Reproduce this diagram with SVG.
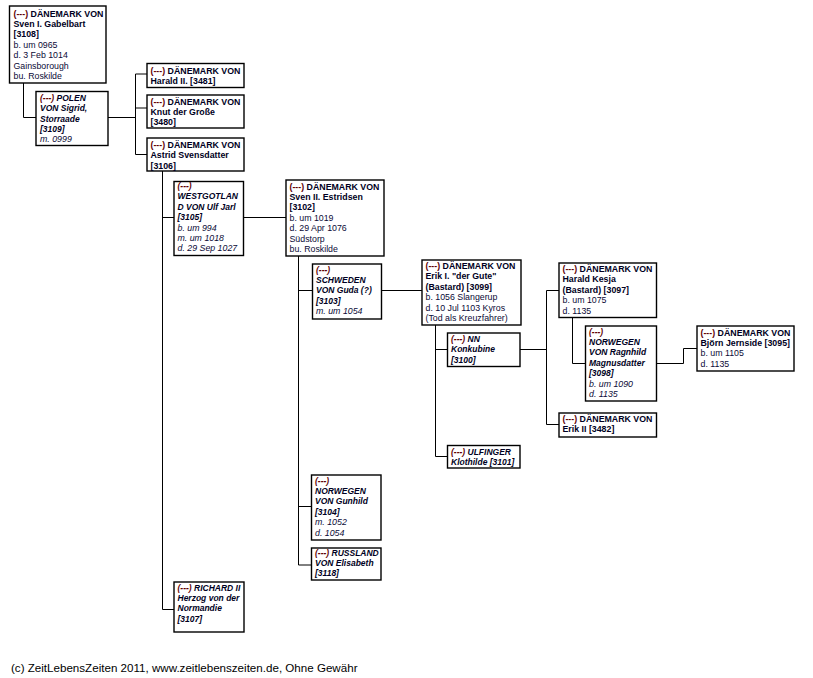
<svg xmlns="http://www.w3.org/2000/svg" width="813" height="678" viewBox="0 0 813 678">
<style>
rect.b{fill:#fff;stroke:#000;stroke-width:1.4}
text{font-family:"Liberation Sans",Arial,sans-serif;font-size:8.8px;fill:#0a0a36}
.n{font-weight:bold;fill:#000022}
.s{font-weight:bold;font-style:italic;fill:#000022;font-size:8.5px}
.di{font-style:italic}
.u{fill:#600000}
#connectors path{fill:none;stroke:#000;stroke-width:1}
.foot{font-size:11.6px;fill:#000}
</style>
<rect width="813" height="678" fill="#fff"/>
<g id="connectors">
<path d="M23.5,83 V117.5 H36"/>
<path d="M108,117.5 H135.5 M135.5,74 V154.5 M135.5,74 H147 M135.5,108 H147 M135.5,154.5 H147"/>
<path d="M162.5,171 V609.5 M162.5,217.5 H174 M162.5,609.5 H174"/>
<path d="M243.5,217.5 H286"/>
<path d="M298.5,256 V565 M298.5,290.5 H312.5 M298.5,506.5 H311.5 M298.5,565 H311.5"/>
<path d="M381.5,290.5 H422"/>
<path d="M435.5,325 V456.5 M435.5,349.5 H447.5 M435.5,456.5 H447.5"/>
<path d="M520,349.5 H546.5 M546.5,290.5 V424.5 M546.5,290.5 H559 M546.5,424.5 H559"/>
<path d="M572.5,317.5 V363.5 H585.5"/>
<path d="M656.5,363.5 H683.5 V348.5 H697"/>
</g>
<g id="n3108">
<rect class="b" x="9.5" y="6" width="96.5" height="77"/>
<text class="n" x="13.5" y="16.5"><tspan class="u">(---)</tspan> DÄNEMARK VON</text>
<text class="n" x="13.5" y="27">Sven I. Gabelbart</text>
<text class="n" x="13.5" y="37.4">[3108]</text>
<text x="13.5" y="47.8">b. um 0965</text>
<text x="13.5" y="58.2">d. 3 Feb 1014</text>
<text x="13.5" y="68.6">Gainsborough</text>
<text x="13.5" y="79">bu.  Roskilde</text>
</g>
<g id="n3109">
<rect class="b" x="36" y="91.5" width="72" height="54"/>
<text class="s" x="40" y="101"><tspan class="u">(---)</tspan> POLEN</text>
<text class="s" x="40" y="111.3">VON Sigrid,</text>
<text class="s" x="40" y="121.6">Storraade</text>
<text class="s" x="40" y="131.9">[3109]</text>
<text class="di" x="40" y="142.2">m. 0999</text>
</g>
<g id="n3481">
<rect class="b" x="147" y="63.5" width="97" height="24"/>
<text class="n" x="150.5" y="73.5"><tspan class="u">(---)</tspan> DÄNEMARK VON</text>
<text class="n" x="150.5" y="84">Harald II. [3481]</text>
</g>
<g id="n3480">
<rect class="b" x="147" y="95" width="97" height="33"/>
<text class="n" x="150.5" y="104.5"><tspan class="u">(---)</tspan> DÄNEMARK VON</text>
<text class="n" x="150.5" y="115">Knut der Große</text>
<text class="n" x="150.5" y="125.4">[3480]</text>
</g>
<g id="n3106">
<rect class="b" x="147" y="138" width="97" height="33"/>
<text class="n" x="150.5" y="147.8"><tspan class="u">(---)</tspan> DÄNEMARK VON</text>
<text class="n" x="150.5" y="158.2">Astrid Svensdatter</text>
<text class="n" x="150.5" y="168.6">[3106]</text>
</g>
<g id="n3105">
<rect class="b" x="174" y="181.5" width="69.5" height="74"/>
<text class="s u" x="177.5" y="189">(---)</text>
<text class="s" x="177.5" y="199.4">WESTGOTLAN</text>
<text class="s" x="177.5" y="209.8">D VON Ulf Jarl</text>
<text class="s" x="177.5" y="220.2">[3105]</text>
<text class="di" x="177.5" y="230.6">b. um 994</text>
<text class="di" x="177.5" y="241">m. um 1018</text>
<text class="di" x="177.5" y="251.4">d. 29 Sep 1027</text>
</g>
<g id="n3107">
<rect class="b" x="174" y="582" width="70" height="50"/>
<text class="s" x="177.5" y="591"><tspan class="u">(---)</tspan> RICHARD II</text>
<text class="s" x="177.5" y="601.2">Herzog von der</text>
<text class="s" x="177.5" y="611.4">Normandie</text>
<text class="s" x="177.5" y="621.6">[3107]</text>
</g>
<g id="n3102">
<rect class="b" x="286" y="180" width="98" height="76"/>
<text class="n" x="289.5" y="189.5"><tspan class="u">(---)</tspan> DÄNEMARK VON</text>
<text class="n" x="289.5" y="200">Sven II. Estridsen</text>
<text class="n" x="289.5" y="210.4">[3102]</text>
<text x="289.5" y="220.8">b. um 1019</text>
<text x="289.5" y="231.2">d. 29 Apr 1076</text>
<text x="289.5" y="241.6">Südstorp</text>
<text x="289.5" y="252">bu.  Roskilde</text>
</g>
<g id="n3103">
<rect class="b" x="312.5" y="264" width="69" height="55"/>
<text class="s u" x="316" y="272.5">(---)</text>
<text class="s" x="316" y="282.9">SCHWEDEN</text>
<text class="s" x="316" y="293.3">VON Guda (?)</text>
<text class="s" x="316" y="303.7">[3103]</text>
<text class="di" x="316" y="314.1">m. um 1054</text>
</g>
<g id="n3104">
<rect class="b" x="311.5" y="475" width="69.5" height="65"/>
<text class="s u" x="315" y="483.5">(---)</text>
<text class="s" x="315" y="493.9">NORWEGEN</text>
<text class="s" x="315" y="504.3">VON Gunhild</text>
<text class="s" x="315" y="514.7">[3104]</text>
<text class="di" x="315" y="525.1">m. 1052</text>
<text class="di" x="315" y="535.5">d. 1054</text>
</g>
<g id="n3118">
<rect class="b" x="311.5" y="548" width="69.5" height="32"/>
<text class="s" x="315" y="555.5"><tspan class="u">(---)</tspan> RUSSLAND</text>
<text class="s" x="315" y="565.9">VON Elisabeth</text>
<text class="s" x="315" y="576.3">[3118]</text>
</g>
<g id="n3099">
<rect class="b" x="422" y="260" width="99" height="65"/>
<text class="n" x="425.5" y="269"><tspan class="u">(---)</tspan> DÄNEMARK VON</text>
<text class="n" x="425.5" y="279.4">Erik I. "der Gute"</text>
<text class="n" x="425.5" y="289.8">(Bastard) [3099]</text>
<text x="425.5" y="300.2">b. 1056 Slangerup</text>
<text x="425.5" y="310.6">d. 10 Jul 1103 Kyros</text>
<text x="425.5" y="321">(Tod als Kreuzfahrer)</text>
</g>
<g id="n3100">
<rect class="b" x="447.5" y="333" width="72.5" height="33.5"/>
<text class="s" x="451" y="342"><tspan class="u">(---)</tspan> NN</text>
<text class="s" x="451" y="352.4">Konkubine</text>
<text class="s" x="451" y="362.8">[3100]</text>
</g>
<g id="n3101">
<rect class="b" x="447.5" y="445.5" width="72.5" height="22.5"/>
<text class="s" x="451" y="454.5"><tspan class="u">(---)</tspan> ULFINGER</text>
<text class="s" x="451" y="464.7">Klothilde [3101]</text>
</g>
<g id="n3097">
<rect class="b" x="559" y="263" width="97.5" height="54.5"/>
<text class="n" x="562.5" y="272"><tspan class="u">(---)</tspan> DÄNEMARK VON</text>
<text class="n" x="562.5" y="282.4">Harald Kesja</text>
<text class="n" x="562.5" y="292.8">(Bastard) [3097]</text>
<text x="562.5" y="303.2">b. um 1075</text>
<text x="562.5" y="313.6">d. 1135</text>
</g>
<g id="n3098">
<rect class="b" x="585.5" y="326" width="71" height="75"/>
<text class="s u" x="589" y="334.5">(---)</text>
<text class="s" x="589" y="344.9">NORWEGEN</text>
<text class="s" x="589" y="355.3">VON Ragnhild</text>
<text class="s" x="589" y="365.7">Magnusdatter</text>
<text class="s" x="589" y="376.1">[3098]</text>
<text class="di" x="589" y="386.5">b. um 1090</text>
<text class="di" x="589" y="396.9">d. 1135</text>
</g>
<g id="n3095">
<rect class="b" x="697" y="326" width="97" height="45"/>
<text class="n" x="700.5" y="335.5"><tspan class="u">(---)</tspan> DÄNEMARK VON</text>
<text class="n" x="700.5" y="345.9">Björn Jernside [3095]</text>
<text x="700.5" y="356.3">b. um 1105</text>
<text x="700.5" y="366.7">d. 1135</text>
</g>
<g id="n3482">
<rect class="b" x="559" y="413" width="97.5" height="24"/>
<text class="n" x="562.5" y="422"><tspan class="u">(---)</tspan> DÄNEMARK VON</text>
<text class="n" x="562.5" y="432.4">Erik II [3482]</text>
</g>
<text class="foot" x="11" y="672">(c) ZeitLebensZeiten 2011, www.zeitlebenszeiten.de, Ohne Gewähr</text>
</svg>
